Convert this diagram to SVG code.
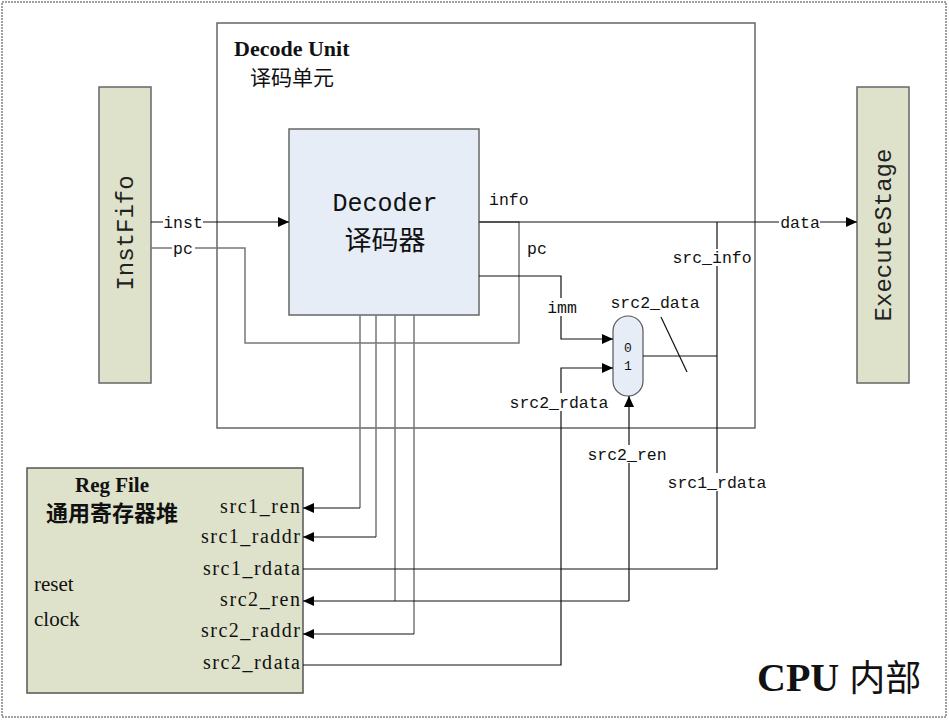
<svg xmlns="http://www.w3.org/2000/svg" width="949" height="720" viewBox="0 0 949 720">
<style>
.box{stroke:#666;stroke-width:1.5}
.w{fill:none;stroke:#111;stroke-width:1.2}
.g{fill:none;stroke:#777;stroke-width:1.5}
.mono{font-family:"Liberation Mono",monospace;font-size:16.5px;fill:#111}
.ser{font-family:"Liberation Serif","Noto Sans CJK SC",serif;fill:#111}
.bg{fill:#fff}
</style>
<defs>
<marker id="ar" markerWidth="11" markerHeight="10" refX="11" refY="5" orient="auto" markerUnits="userSpaceOnUse"><path d="M0,0 L11,5 L0,10 z" fill="#000"/></marker>
</defs>
<rect x="2" y="2" width="944" height="715" fill="#fff" stroke="#444" stroke-width="1" stroke-dasharray="2,1"/>
<g id="decode-unit">
<rect x="217" y="23" width="538" height="405" fill="#fff" class="box"/>
<text x="234" y="56" class="ser" font-size="22" font-weight="bold">Decode Unit</text>
<text x="250" y="85" font-family="'Noto Sans CJK SC',sans-serif" font-size="21" fill="#111">译码单元</text>
</g>
<g id="instfifo">
<rect x="99" y="87" width="52" height="296" fill="#dee2cb" class="box"/>
<text transform="translate(133,233) rotate(-90)" text-anchor="middle" font-family="'Liberation Mono',monospace" font-size="24" fill="#222">InstFifo</text>
</g>
<g id="executestage">
<rect x="857" y="87" width="52" height="296" fill="#dee2cb" class="box"/>
<text transform="translate(891,235) rotate(-90)" text-anchor="middle" font-family="'Liberation Mono',monospace" font-size="24" fill="#222">ExecuteStage</text>
</g>
<g id="decoder">
<rect x="289" y="129" width="190" height="186" fill="#e6edf7" class="box"/>
<text x="385" y="211" text-anchor="middle" font-family="'Liberation Mono',monospace" font-size="25" fill="#111">Decoder</text>
<text x="385" y="250" text-anchor="middle" font-family="'Noto Sans CJK SC',sans-serif" font-size="27" fill="#111">译码器</text>
</g>
<g id="regfile">
<rect x="27" y="468" width="276" height="225" fill="#dee2cb" stroke="#555" stroke-width="1.5"/>
<text x="112" y="492" text-anchor="middle" class="ser" font-size="21" font-weight="bold">Reg File</text>
<text x="112" y="521" text-anchor="middle" font-family="'Noto Sans CJK SC',sans-serif" font-size="22" font-weight="bold" fill="#111">通用寄存器堆</text>
<g class="ser" font-size="20" text-anchor="end">
<text x="300" y="513" textLength="80">src1_ren</text>
<text x="300" y="543" textLength="99">src1_raddr</text>
<text x="300" y="575" textLength="97">src1_rdata</text>
<text x="300" y="606" textLength="80">src2_ren</text>
<text x="300" y="637" textLength="99">src2_raddr</text>
<text x="300" y="669" textLength="97">src2_rdata</text>
</g>
<text x="34" y="591" class="ser" font-size="21">reset</text>
<text x="34" y="626" class="ser" font-size="21">clock</text>
</g>
<g id="mux">
<rect x="613" y="316" width="30" height="80" rx="15" ry="15" fill="#e6edf7" stroke="#555" stroke-width="1.2"/>
<text x="628" y="352" text-anchor="middle" font-family="'Liberation Mono',monospace" font-size="13" fill="#111">0</text>
<text x="628" y="370" text-anchor="middle" font-family="'Liberation Mono',monospace" font-size="13" fill="#111">1</text>
</g>
<g id="connectors">
<path class="g" d="M151,248 H245 V343 H519 V222 H479"/>
<path class="g" d="M360,315 V508"/>
<path class="g" d="M376,315 V537"/>
<path class="g" d="M395,315 V601"/>
<path class="g" d="M414,315 V634"/>
<path class="w" d="M360,508 H303" marker-end="url(#ar)"/>
<path class="w" d="M376,537 H303" marker-end="url(#ar)"/>
<path class="w" d="M414,634 H303" marker-end="url(#ar)"/>
<path class="w" d="M629,601 H303" marker-end="url(#ar)"/>
<path class="w" d="M629,601 V396" marker-end="url(#ar)"/>
<path class="w" d="M151,222 H289" marker-end="url(#ar)"/>
<path class="w" d="M479,222 H857" marker-end="url(#ar)"/>
<path class="w" d="M303,569 H717 V222" stroke="#333"/>
<path class="w" d="M643,356 H717" stroke="#333"/>
<path class="w" d="M661,317 L687,372" stroke="#333"/>
<path class="w" d="M479,276 H561 V339 H613" marker-end="url(#ar)"/>
<path class="w" d="M303,665 H561 V368 H613" marker-end="url(#ar)"/>
<rect class="bg" x="163" y="214" width="40" height="16"/>
<text x="183" y="228" text-anchor="middle" class="mono">inst</text>
<rect class="bg" x="172" y="242" width="23" height="15"/>
<text x="183" y="254" text-anchor="middle" class="mono" fill="#223">pc</text>
<text x="489" y="205" class="mono">info</text>
<text x="527" y="254" class="mono">pc</text>
<rect class="bg" x="779" y="214" width="41" height="16"/>
<text x="800" y="228" text-anchor="middle" class="mono">data</text>
<rect class="bg" x="672" y="249" width="81" height="17"/>
<text x="712" y="263" text-anchor="middle" class="mono">src_info</text>
<rect class="bg" x="547" y="298" width="31" height="18"/>
<text x="562" y="313" text-anchor="middle" class="mono">imm</text>
<text x="655" y="308" text-anchor="middle" class="mono" fill="#555">src2_data</text>
<rect class="bg" x="509" y="393" width="100" height="18"/>
<text x="559" y="408" text-anchor="middle" class="mono">src2_rdata</text>
<rect class="bg" x="587" y="445" width="81" height="18"/>
<text x="627" y="460" text-anchor="middle" class="mono">src2_ren</text>
<rect class="bg" x="667" y="473" width="100" height="18"/>
<text x="717" y="488" text-anchor="middle" class="mono">src1_rdata</text>
</g>
<text x="757" y="691" class="ser" font-size="40" font-weight="bold">CPU <tspan font-family="'Noto Sans CJK SC',sans-serif" font-size="36" font-weight="normal">内部</tspan></text>
</svg>
